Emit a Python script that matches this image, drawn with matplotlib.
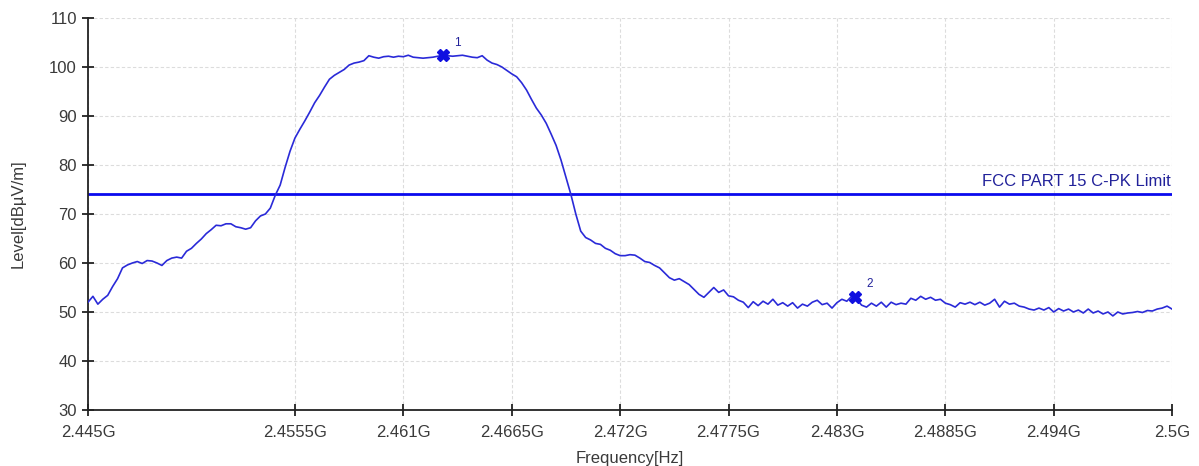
import matplotlib.pyplot as plt
import numpy as np

plt.rcParams['font.family'] = ['Liberation Sans', 'DejaVu Sans']

# sweep: 2445 MHz .. 2500 MHz, 221 points (0.25 MHz step)
freq_ghz = np.linspace(2.445, 2.5, 221)
level = [
    52.0, 53.2, 51.6, 52.6, 53.4, 55.2, 56.8, 59.0, 59.6, 60.0,
    60.3, 59.9, 60.5, 60.4, 60.0, 59.5, 60.5, 61.0, 61.2, 61.0,
    62.4, 63.0, 64.0, 64.9, 66.0, 66.8, 67.7, 67.6, 68.0, 68.0,
    67.4, 67.2, 66.9, 67.2, 68.6, 69.6, 70.0, 71.2, 73.8, 75.9,
    79.5, 82.8, 85.5, 87.3, 89.0, 90.8, 92.7, 94.2, 95.9, 97.5,
    98.3, 98.9, 99.5, 100.4, 100.8, 101.0, 101.3, 102.3, 102.0, 101.8,
    102.1, 102.2, 102.0, 102.2, 102.1, 102.4, 102.0, 101.9, 101.8, 101.9,
    102.0, 102.2, 102.4, 102.3, 102.2, 102.3, 102.4, 102.2, 102.0, 101.9,
    102.3, 101.4, 100.8, 100.5, 100.0, 99.3, 98.6, 98.0, 96.8, 95.3,
    93.4, 91.6, 90.2, 88.5, 86.3, 84.0, 81.0, 77.5, 74.0, 70.0,
    66.5, 65.2, 64.7, 64.0, 63.8, 63.0, 62.6, 61.9, 61.5, 61.5,
    61.7, 61.6, 61.0, 60.3, 60.1, 59.5, 59.0, 58.0, 57.0, 56.5,
    56.8, 56.2, 55.6, 54.6, 53.6, 53.0, 54.0, 55.0, 54.0, 54.5,
    53.3, 53.1, 52.4, 52.0, 50.9, 52.1, 51.3, 52.2, 51.6, 52.6,
    51.4, 51.9, 51.2, 51.9, 50.8, 51.6, 51.2, 52.0, 52.4, 51.5,
    51.8, 50.8, 51.9, 52.6, 52.2, 53.2, 52.6, 51.4, 51.0, 51.8,
    51.2, 52.0, 51.0, 52.0, 51.5, 51.8, 51.6, 52.8, 52.4, 53.2,
    52.6, 53.0, 52.4, 52.6, 51.8, 51.5, 51.0, 51.9, 51.6, 52.0,
    51.5, 52.0, 51.4, 51.8, 52.6, 51.0, 52.2, 51.6, 51.8, 51.2,
    51.0, 50.6, 50.4, 50.8, 50.4, 50.9, 50.0, 50.7, 50.2, 50.6,
    50.0, 50.4, 49.8, 50.6, 49.8, 50.2, 49.6, 50.0, 49.2, 50.0,
    49.6, 49.8, 49.9, 50.1, 49.9, 50.3, 50.2, 50.6, 50.8, 51.2,
    50.6,
]

limit_level = 74
limit_label = 'FCC PART 15 C-PK Limit'

marker_freq = [2.46301, 2.48392]
marker_level = [102.4, 53.1]
marker_names = ['1', '2']

xtick_vals = [2.445, 2.4555, 2.461, 2.4665, 2.472, 2.4775, 2.483, 2.4885, 2.494, 2.5]
xtick_labels = ['2.445G', '2.4555G', '2.461G', '2.4665G', '2.472G',
                '2.4775G', '2.483G', '2.4885G', '2.494G', '2.5G']
ytick_vals = [30, 40, 50, 60, 70, 80, 90, 100, 110]

fig = plt.figure(figsize=(11.99, 4.66), dpi=100)
ax = fig.add_axes([88 / 1199, 56 / 466, 1084 / 1199, 392 / 466])

ax.plot(freq_ghz, level, color='#2a2ad8', lw=1.2, zorder=3)
ax.axhline(limit_level, color='#0a0aee', lw=2.0, zorder=2)
ax.text(0.9985, limit_level + 1.2, limit_label, ha='right', va='bottom',
        fontsize=12, color='#22229a', transform=ax.get_yaxis_transform())

ax.plot(marker_freq, marker_level, 'X', color='#1010e0', ms=9, mec='#1010e0', zorder=4)
for fx, fy, name in zip(marker_freq, marker_level, marker_names):
    ax.annotate(name, (fx, fy), xytext=(8, 7), textcoords='offset points',
                fontsize=8.5, color='#22229a')

ax.set_xlim(2.445, 2.5)
ax.set_ylim(30, 110)
ax.set_xticks(xtick_vals)
ax.set_xticklabels(xtick_labels)
ax.set_yticks(ytick_vals)
ax.tick_params(direction='inout', length=9, width=1.3, colors='#222222',
               labelsize=12, labelcolor='#3a3a3a')
ax.tick_params(axis='x', pad=6)

ax.grid(True, color='#dcdcdc', linestyle=(0, (3, 2)), lw=0.8)
ax.set_axisbelow(True)
for s in ['top', 'right']:
    ax.spines[s].set_visible(False)
for s in ['left', 'bottom']:
    ax.spines[s].set_color('#222222')
    ax.spines[s].set_linewidth(1.3)

ax.set_xlabel('Frequency[Hz]', fontsize=12, color='#3a3a3a', labelpad=8)
ax.set_ylabel('Level[dBµV/m]', fontsize=12, color='#3a3a3a', labelpad=17)

fig.savefig('out.png', dpi=100)
